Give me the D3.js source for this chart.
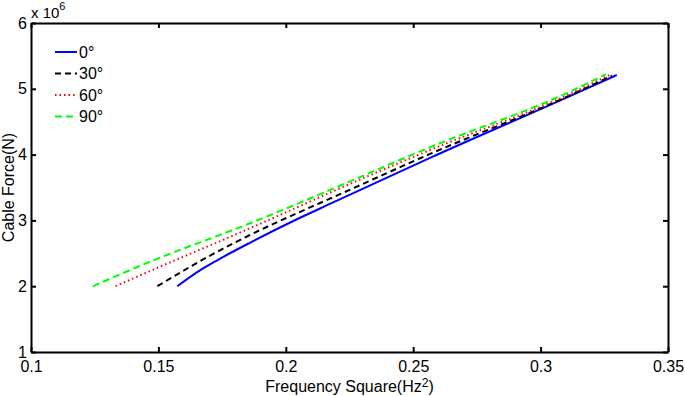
<!DOCTYPE html>
<html>
<head>
<meta charset="utf-8">
<script src="https://cdn.jsdelivr.net/npm/d3@7"></script>
<style>
body { margin: 0; background: #fff; }
text { font-family: "Liberation Sans", Arial, sans-serif; fill: #000; }
</style>
</head>
<body>
<svg id="chart" width="685" height="396"></svg>
<script>
// data: frequency square (Hz^2), cable force (x 10^6 N)
var angles = ["0°", "30°", "60°", "90°"]
var colors = ["#0000ff", "#000000", "#ff0000", "#00ff00"]
var dashes = [null, "6,4", "1.5,3", "7,4"]

var freq0 = [0.1574, 0.1663, 0.1729, 0.1859, 0.2056, 0.2173, 0.2566, 0.3115, 0.3299]
var force0 = [2.0, 2.24, 2.39, 2.66, 3.04, 3.25, 3.95, 4.89, 5.21]
var freq30 = [0.1496, 0.1663, 0.1859, 0.2056, 0.2173, 0.2566, 0.3115, 0.328]
var force30 = [2.0, 2.38, 2.778, 3.13, 3.33, 4.01, 4.90, 5.2]
var freq60 = [0.1332, 0.1467, 0.1859, 0.2056, 0.2173, 0.2566, 0.3115, 0.327]
var force60 = [2.0, 2.23, 2.88, 3.219, 3.421, 4.07, 4.921, 5.21]
var freq90 = [0.1243, 0.1467, 0.1859, 0.2056, 0.2173, 0.2566, 0.3115, 0.3256]
var force90 = [2.0, 2.372, 2.956, 3.269, 3.462, 4.111, 4.956, 5.22]

var xTicks = [0.1, 0.15, 0.2, 0.25, 0.3, 0.35]
var yTicks = [1, 2, 3, 4, 5, 6]

var series = [[freq0, force0], [freq30, force30], [freq60, force60], [freq90, force90]]

var svg = d3.select("#chart")
var mLeft = 31, mRight = 668, mTop = 23, mBottom = 352

var x = d3.scaleLinear().domain([0.1, 0.35]).range([mLeft, mRight])
var y = d3.scaleLinear().domain([1, 6]).range([mBottom, mTop])

var line = d3.line()
	.x(function(d) { return x(d[0]) })
	.y(function(d) { return y(d[1]) })
	.curve(d3.curveMonotoneX)

for (var i = 0; i < series.length; i++) {
	var pts = series[i][0].map(function(f, j) { return [f, series[i][1][j]] })
	svg.append("path")
		.datum(pts)
		.attr("d", line)
		.attr("fill", "none")
		.attr("stroke", colors[i])
		.attr("stroke-width", 2)
		.attr("stroke-dasharray", dashes[i])
}

// axes, ticks inward on all four sides
var xBottom = d3.axisBottom(x).tickValues(xTicks).tickSizeInner(-5).tickSizeOuter(0).tickPadding(9)
	.tickFormat(function(d) { return d3.format("")(+d.toFixed(2)) })
var xTop = d3.axisTop(x).tickValues(xTicks).tickSizeInner(-5).tickSizeOuter(0).tickFormat("")
var yLeft = d3.axisLeft(y).tickValues(yTicks).tickSizeInner(-5).tickSizeOuter(0).tickPadding(4)
	.tickFormat(d3.format("d"))
var yRight = d3.axisRight(y).tickValues(yTicks).tickSizeInner(-5).tickSizeOuter(0).tickFormat("")

function styleAxis(g) {
	g.selectAll("path").attr("stroke", "#000").attr("stroke-width", 2)
	g.selectAll("line").attr("stroke", "#000").attr("stroke-width", 2)
	g.selectAll("text").attr("font-size", 16).attr("font-family", "Liberation Sans, Arial, sans-serif")
}

svg.append("g").attr("transform", "translate(0," + mBottom + ")").call(xBottom).call(styleAxis)
svg.append("g").attr("transform", "translate(0," + mTop + ")").call(xTop).call(styleAxis)
svg.append("g").attr("transform", "translate(" + mLeft + ",0)").call(yLeft).call(styleAxis)
svg.append("g").attr("transform", "translate(" + mRight + ",0)").call(yRight).call(styleAxis)

// exponent label
var expo = svg.append("text").attr("x", 31).attr("y", 18).attr("font-size", 15)
expo.append("tspan").text("x 10")
expo.append("tspan").attr("dy", -8).attr("font-size", 11).text("6")

// axis titles
var xl = svg.append("text")
	.attr("x", (mLeft + mRight) / 2)
	.attr("y", 392)
	.attr("text-anchor", "middle")
	.attr("font-size", 16)
xl.append("tspan").text("Frequency Square(Hz")
xl.append("tspan").attr("dy", -5).attr("font-size", 12).text("2")
xl.append("tspan").attr("dy", 5).text(")")

svg.append("text")
	.attr("transform", "translate(14," + ((mTop + mBottom) / 2) + ") rotate(-90)")
	.attr("text-anchor", "middle")
	.attr("font-size", 16)
	.text("Cable Force(N)")

// legend
var legend = svg.append("g").attr("class", "legend")
for (var k = 0; k < angles.length; k++) {
	var ly = 52 + k * 21.5
	legend.append("line")
		.attr("x1", 55).attr("x2", 77)
		.attr("y1", ly).attr("y2", ly)
		.attr("stroke", colors[k])
		.attr("stroke-width", 2)
		.attr("stroke-dasharray", dashes[k])
	legend.append("text")
		.attr("x", 79)
		.attr("y", ly)
		.attr("dy", "0.35em")
		.attr("font-size", 16)
		.text(angles[k])
}
</script>
</body>
</html>
